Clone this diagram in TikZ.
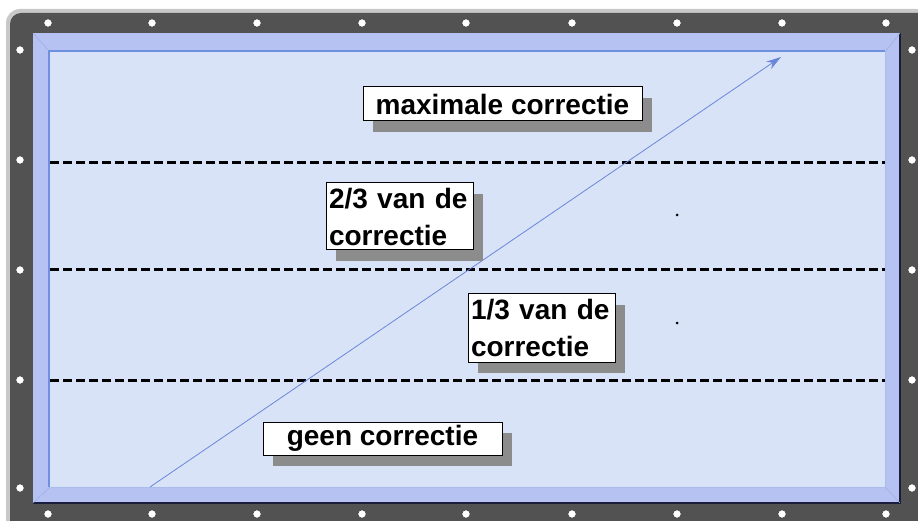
\documentclass[tikz,border=0pt]{standalone}
\usepackage{fontspec}
\setmainfont{Liberation Sans}
\usetikzlibrary{arrows.meta,shadows}
\definecolor{framegray}{HTML}{525252}
\definecolor{edgegray}{HTML}{C8C8C8}
\definecolor{bevel}{HTML}{B6C2F2}
\definecolor{field}{HTML}{D9E3F8}
\definecolor{bevline}{HTML}{6F8FE0}
\definecolor{bevdark}{HTML}{1C1C3C}
\definecolor{arrowblue}{HTML}{6A86D8}
\definecolor{shadowgray}{HTML}{8C8C8C}
\tikzset{
  lbl/.style={draw=black, line width=1pt, fill=white, inner xsep=3pt, inner ysep=3pt, outer sep=0pt,
    font=\fontsize{28}{37}\selectfont\bfseries, align=left, anchor=north west,
    drop shadow={shadow xshift=10pt, shadow yshift=-11pt, fill=shadowgray, opacity=1}},
  rivet/.style={circle, fill=white, draw=black!75, line width=0.7pt, minimum size=8.5pt, inner sep=0pt},
  divider/.style={line width=3pt, dash pattern=on 9pt off 4pt},
  corr/.style={draw=arrowblue, line width=0.8pt, -{Stealth[length=15pt,width=9pt]}}
}
\begin{document}
\begin{tikzpicture}[x=1pt,y=-1pt]
\useasboundingbox (0,0) rectangle (918,521);
\clip (0,0) rectangle (918,521);
% outer frame
\fill[edgegray, rounded corners=14pt] (6,9) rectangle (930,540);
\fill[framegray, rounded corners=11pt] (10,13) rectangle (930,540);
% bevel
\fill[bevel] (33,33) rectangle (900,503);
\draw[bevdark, line width=2pt] (900,33) -- (900,503) -- (33,503);
\draw[bevline!70, line width=0.6pt] (33,33) -- (50,52);
\draw[bevline!70, line width=0.6pt] (900,33) -- (885,52);
\draw[bevline!70, line width=0.6pt] (33,503) -- (50,487);
\draw[bevline!70, line width=0.6pt] (900,503) -- (885,487);
\fill[field] (50,52) rectangle (885,487);
\draw[bevline, line width=2.4pt] (49,487) -- (49,51) -- (885,51);
\draw[bevline!60, line width=1pt] (885,51) -- (885,487) -- (49,487);
% rivets
\foreach \x in {48,152,257,362,466,572,677,782,886} {
  \node[rivet] at (\x,23) {};
  \node[rivet] at (\x,514) {};
}
\foreach \y in {50,160,270,380,488} {
  \node[rivet] at (20,\y) {};
  \node[rivet] at (912,\y) {};
}
% dividers
\coordinate (d1l) at (50,163); \coordinate (d1r) at (885,163);
\coordinate (d2l) at (50,270); \coordinate (d2r) at (885,270);
\coordinate (d3l) at (50,380); \coordinate (d3r) at (885,380);
\draw[divider] (d1l) -- (d1r);
\draw[divider] (d2l) -- (d2r);
\draw[divider] (d3l) -- (d3r);
% arrow
\coordinate (astart) at (150,487);
\coordinate (aend) at (781,57);
\draw[corr] (astart) -- (aend);
% small dots
\fill (677,215) circle (1.5pt);
\fill (677,323) circle (1.5pt);
% labels
\node[lbl, minimum width=279pt, minimum height=34pt] (max) at (363,87) {maximale correctie};
\node[lbl, text width=141pt, minimum height=67pt] (twothird) at (326,183) {2/3 van de\\correctie};
\node[lbl, text width=141pt, minimum height=68pt] (onethird) at (468,294) {1/3 van de\\correctie};
\node[lbl, minimum width=239pt, minimum height=33pt] (none) at (263,422) {geen correctie};
\end{tikzpicture}
\end{document}
